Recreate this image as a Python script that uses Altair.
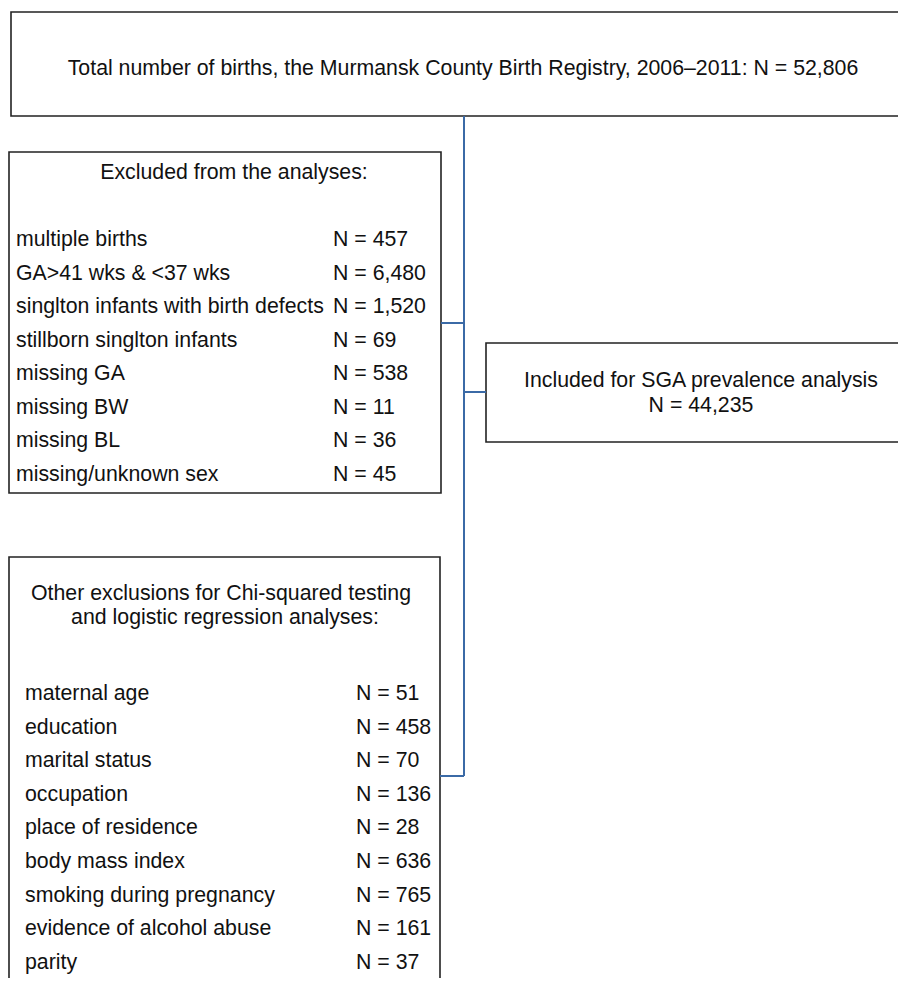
import altair as alt
import pandas as pd

# ---- content -------------------------------------------------------------
total_label = "Total number of births, the Murmansk County Birth Registry, 2006\u20132011:"
total_n = 52806

excluded_title = "Excluded from the analyses:"
excluded_labels = [
    "multiple births",
    "GA>41 wks & <37 wks",
    "singlton infants with birth defects",
    "stillborn singlton infants",
    "missing GA",
    "missing BW",
    "missing BL",
    "missing/unknown sex",
]
excluded_n = [457, 6480, 1520, 69, 538, 11, 36, 45]

included_label = "Included for SGA prevalence analysis"
included_n = 44235

other_title = ["Other exclusions for Chi-squared testing", "and logistic regression analyses:"]
other_labels = [
    "maternal age",
    "education",
    "marital status",
    "occupation",
    "place of residence",
    "body mass index",
    "smoking during pregnancy",
    "evidence of alcohol abuse",
    "parity",
]
other_n = [51, 458, 70, 136, 28, 636, 765, 161, 37]

# ---- layout (screen-pixel coordinate system) ------------------------------
W, H = 890, 970
FONT = "Liberation Sans"
FS = 21.3
BLUE = "#3b6aa6"
DARK = "#222222"

def fmt(n):
    return f"N = {n:,}"

boxes = pd.DataFrame([
    dict(x=11, x2=1300, y=12, y2=116),
    dict(x=9, x2=441, y=152, y2=493),
    dict(x=486, x2=1300, y=343, y2=442),
    dict(x=9, x2=440, y=557, y2=1300),
])

links = pd.DataFrame([
    dict(x=464, x2=464, y=116, y2=776),
    dict(x=441, x2=464, y=323, y2=323),
    dict(x=464, x2=486, y=392, y2=392),
    dict(x=440, x2=464, y=776, y2=776),
])

left_rows = []
for i, (lab, n) in enumerate(zip(excluded_labels, excluded_n)):
    yy = 246 + i * 33.57
    left_rows.append(dict(x=16, y=yy, text=lab))
    left_rows.append(dict(x=333, y=yy, text=fmt(n)))
for i, (lab, n) in enumerate(zip(other_labels, other_n)):
    yy = 700 + i * 33.6
    left_rows.append(dict(x=25, y=yy, text=lab))
    left_rows.append(dict(x=356, y=yy, text=fmt(n)))
left_text = pd.DataFrame(left_rows)

center_text = pd.DataFrame([
    dict(x=463, y=75, text=f"{total_label} {fmt(total_n)}"),
    dict(x=234, y=179, text=excluded_title),
    dict(x=701, y=387, text=included_label),
    dict(x=701, y=411.5, text=fmt(included_n)),
    dict(x=221, y=600, text=other_title[0]),
    dict(x=225, y=624.3, text=other_title[1]),
])

xs = alt.Scale(domain=[8, 8 + W], nice=False, zero=False)
ys = alt.Scale(domain=[8, 8 + H], nice=False, zero=False, reverse=True)

rects = alt.Chart(boxes).mark_rect(
    fill="white", stroke=DARK, strokeWidth=1.6, clip=True
).encode(
    x=alt.X("x:Q", scale=xs, axis=None),
    x2="x2:Q",
    y=alt.Y("y:Q", scale=ys, axis=None),
    y2="y2:Q",
)

rules = alt.Chart(links).mark_rule(color=BLUE, strokeWidth=2).encode(
    x=alt.X("x:Q", scale=xs, axis=None),
    x2="x2:Q",
    y=alt.Y("y:Q", scale=ys, axis=None),
    y2="y2:Q",
)

ltext = alt.Chart(left_text).mark_text(
    align="left", baseline="alphabetic", font=FONT, fontSize=FS, color="#111111"
).encode(
    x=alt.X("x:Q", scale=xs, axis=None),
    y=alt.Y("y:Q", scale=ys, axis=None),
    text="text:N",
)

ctext = alt.Chart(center_text).mark_text(
    align="center", baseline="alphabetic", font=FONT, fontSize=FS, color="#111111"
).encode(
    x=alt.X("x:Q", scale=xs, axis=None),
    y=alt.Y("y:Q", scale=ys, axis=None),
    text="text:N",
)

chart = alt.layer(rects, rules, ltext, ctext).properties(
    width=W, height=H, padding=0,
    autosize=alt.AutoSizeParams(type="none"),
).configure_view(stroke=None)

chart.save("out.html", embed_options={"renderer": "svg", "actions": False})
